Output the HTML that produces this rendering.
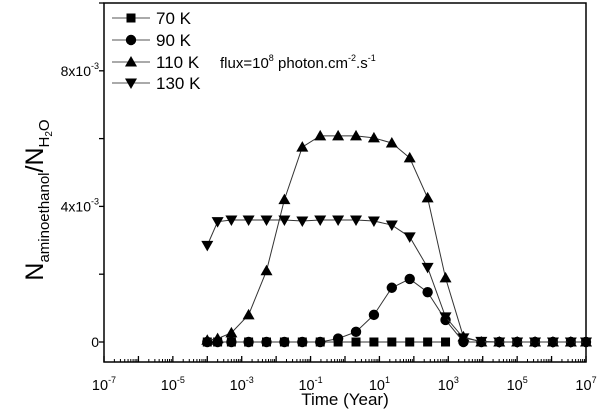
<!DOCTYPE html>
<html><head><meta charset="utf-8"><style>
body{margin:0;background:#fff;}
svg{display:block;font-family:"Liberation Sans",sans-serif;}
</style></head><body>
<svg id="chart" width="600" height="410" xmlns="http://www.w3.org/2000/svg">
<g id="plot"></g>
</svg>
<script>
const xLogs=[-4,-3.7,-3.3,-2.8,-2.28,-1.76,-1.24,-0.72,-0.2,0.32,0.84,1.36,1.88,2.4,2.92,3.44,3.96,4.48,5.0,5.52,6.04,6.56,7.0];
const s70=[0,0,0,0,0,0,0,0,0,0,0,0,0,0,0,0,0,0,0,0,0,0,0];
const s90=[0,0,0,0,0,0,0,0,0.1,0.3,0.8,1.6,1.86,1.47,0.65,0,0,0,0,0,0,0,0];
const s110=[0.05,0.1,0.27,0.8,2.1,4.2,5.75,6.08,6.08,6.08,6.02,5.87,5.43,4.25,1.89,0.15,0,0,0,0,0,0,0];
const s130=[2.85,3.55,3.6,3.6,3.6,3.6,3.57,3.6,3.6,3.6,3.57,3.45,3.1,2.2,0.74,0.12,0.02,0,0,0,0,0,0];
const xTickLabels=["-7","-5","-3","-1","1","3","5","7"];
const yTickLabels=["0","4x10","8x10"];
const L=104,R=586,T=3,B=362;
const X=v=>L+(v+7)/14*(R-L);
const Y=v=>342-v*33.9;
const NS="http://www.w3.org/2000/svg";
const g=document.getElementById('plot');
function mk(t,a,p){const e=document.createElementNS(NS,t);for(const k in a)e.setAttribute(k,a[k]);(p||g).appendChild(e);return e;}
let fr=mk('rect',{x:L,y:T,width:R-L,height:B-T,fill:'none',stroke:'#000','stroke-width':1.5});

for(let d=-7;d<=7;d++){
  let t=mk('line',{x1:X(d),x2:X(d),y1:B,y2:B-6,stroke:'#000','stroke-width':1.3});
  
  if(d<7)for(let m=2;m<10;m++){const lx=X(d+Math.log10(m));
    let mt=mk('line',{x1:lx,x2:lx,y1:B,y2:B-3,stroke:'#000','stroke-width':1});
    }
}
xTickLabels.forEach(s=>{const d=+s;
  const tx=mk('text',{x:X(d),y:390,'font-size':14.5,'text-anchor':'middle'});
  
  tx.innerHTML='10<tspan dy="-7" font-size="9">'+s+'</tspan>';});
for(let v=0;v<=10;v+=2){let t=mk('line',{x1:L,x2:L-5,y1:Y(v),y2:Y(v),stroke:'#000','stroke-width':1.3});
  }
yTickLabels.forEach((s,i)=>{const v=i*4;
  const tx=mk('text',{x:99,y:Y(v)+5,'font-size':14,'text-anchor':'end'});
  
  tx.innerHTML=i==0?s:s+'<tspan dy="-7" font-size="9">-3</tspan>';});
let xt=mk('text',{x:345,y:405,'font-size':17,'text-anchor':'middle'});xt.textContent='Time (Year)';

let yt=mk('text',{transform:'translate(43,200) rotate(-90)','font-size':25,'text-anchor':'middle'});

yt.innerHTML='N<tspan font-size="15" dy="6">aminoethanol</tspan><tspan dy="-6">/N</tspan><tspan font-size="15" dy="6">H</tspan><tspan font-size="10" dy="3">2</tspan><tspan font-size="15" dy="-3">O</tspan>';
function marker(type,x,y,p){
  let e;
  if(type==='sq')e=mk('rect',{x:x-4.5,y:y-4.5,width:9,height:9,fill:'#000'},p);
  else if(type==='ci')e=mk('circle',{cx:x,cy:y,r:5.2,fill:'#000'},p);
  else if(type==='up')e=mk('polygon',{points:`${x},${y-6} ${x-6},${y+4.5} ${x+6},${y+4.5}`,fill:'#000'},p);
  else e=mk('polygon',{points:`${x},${y+6} ${x-6},${y-4.5} ${x+6},${y-4.5}`,fill:'#000'},p);
  return e;
}
const series=[[s70,'sq','70 K'],[s90,'ci','90 K'],[s110,'up','110 K'],[s130,'dn','130 K']];
series.forEach(([vals,type,name])=>{
  const sg=mk('g',{});
  const n=type==='sq'?15:vals.length;
  let pts=[];for(let i=0;i<n;i++)pts.push(X(xLogs[i])+','+Y(vals[i]));
  let pl=mk('polyline',{points:pts.join(' '),fill:'none',stroke:'#333','stroke-width':1},sg);
  
  for(let i=0;i<n;i++){let m=marker(type,X(xLogs[i]),Y(vals[i]),sg);
    }
});
series.forEach(([v,type,name],i)=>{
  const y=[18,40,62,83][i];
  const lg=mk('g',{});
  mk('line',{x1:112,x2:150,y1:y,y2:y,stroke:'#555','stroke-width':1},lg);
  marker(type,131,y,lg);
  const t=mk('text',{x:156,y:y+6,'font-size':17},lg);t.textContent=name;
});
let an=mk('text',{x:220,y:68,'font-size':15});
an.innerHTML='flux=10<tspan dy="-7" font-size="9">8</tspan><tspan dy="7"> photon.cm</tspan><tspan dy="-7" font-size="9">-2</tspan><tspan dy="7">.s</tspan><tspan dy="-7" font-size="9">-1</tspan>';
</script>
</body></html>
